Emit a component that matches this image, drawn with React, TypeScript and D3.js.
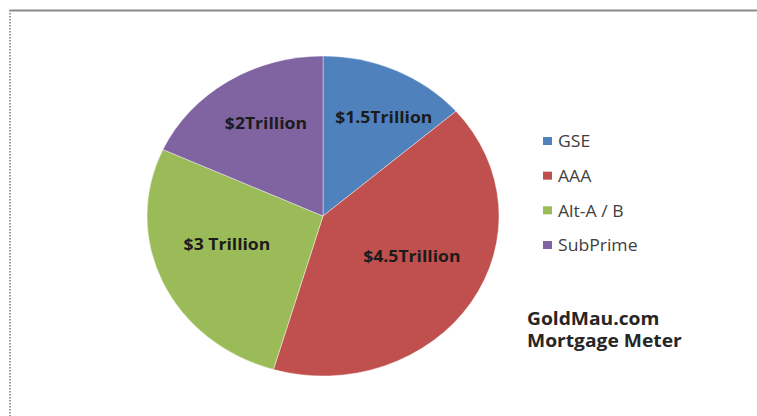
import React from "react";
import * as d3 from "d3";

const categories = ["GSE", "AAA", "Alt-A / B", "SubPrime"];
const values = [1.5, 4.5, 3, 2];
const sliceLabels = ["$1.5Trillion", "$4.5Trillion", "$3 Trillion", "$2Trillion"];
const colors = ["#4F81BD", "#C0504D", "#9BBB59", "#8064A2"];
const titleLines = ["GoldMau.com", "Mortgage Meter"];

const W = 757;
const H = 416;
const cx = 323;
const cy = 216;
const R = 160;
const sx = 176 / 160;
const labelSize = 16;

export default function App() {
  const pie = d3.pie<number>().sort(null).value((d) => d);
  const arcs = pie(values);
  const arc = d3.arc<d3.PieArcDatum<number>>().innerRadius(0).outerRadius(R);
  const labelArc = d3.arc<d3.PieArcDatum<number>>().innerRadius(R * 0.6).outerRadius(R * 0.6);
  const legendY = d3.scaleLinear().domain([0, 3]).range([141, 245]);
  const font = "'Open Sans', 'Liberation Sans', sans-serif";

  return (
    <svg
      width={W}
      height={H}
      style={{ position: "absolute", left: 0, top: 0, background: "#fff" }}
    >
      <line x1={9.5} y1={10.5} x2={W} y2={10.5} stroke="#8a8a8a" strokeWidth={2} />
      <line x1={10} y1={10} x2={10} y2={H} stroke="#9a9a9a" strokeWidth={2} strokeDasharray="1.5,1.5" />
      <g transform={`translate(${cx},${cy}) scale(${sx},1)`}>
        {arcs.map((a, i) => (
          <path key={i} d={arc(a) || ""} fill={colors[i]} stroke="#fff" strokeWidth={0.4} />
        ))}
      </g>
      {arcs.map((a, i) => {
        const [lx, ly] = labelArc.centroid(a);
        let x = cx + lx * sx;
        const y = cy + ly - 12;
        // keep the label box clear of the vertical divider in the upper half
        const half = (sliceLabels[i].length * labelSize * 0.5 * sx) / 2;
        if (ly < 0 && lx > 0 && x - half < cx + 8) x = cx + 8 + half;
        if (ly < 0 && lx < 0 && x + half > cx - 8) x = cx - 8 - half;
        return (
          <text
            key={i}
            transform={`translate(${x},${y}) scale(${sx},1)`}
            textAnchor="middle"
            dominantBaseline="central"
            fontFamily={font}
            fontWeight="bold"
            fontSize={labelSize}
            fill="#1b1b1b"
          >
            {sliceLabels[i]}
          </text>
        );
      })}
      {categories.map((c, i) => (
        <g key={c}>
          <rect x={543} y={legendY(i) - 4} width={9} height={8} fill={colors[i]} />
          <text
            transform={`translate(558,${legendY(i)}) scale(${sx},1)`}
            dominantBaseline="central"
            fontFamily={font}
            fontSize={16}
            fill="#404040"
          >
            {c}
          </text>
        </g>
      ))}
      {titleLines.map((t, i) => (
        <text
          key={t}
          transform={`translate(527,${325 + i * 22}) scale(${sx},1)`}
          fontFamily={font}
          fontWeight="bold"
          fontSize={17.5}
          fill="#262626"
        >
          {t}
        </text>
      ))}
    </svg>
  );
}
